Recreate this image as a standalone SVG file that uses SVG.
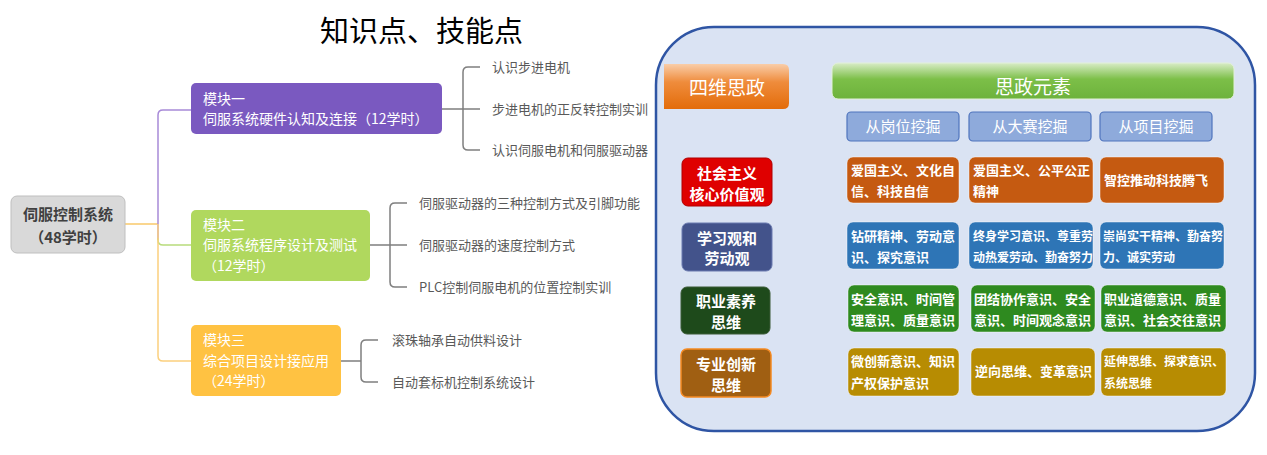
<svg xmlns="http://www.w3.org/2000/svg" width="1267" height="455" viewBox="0 0 1267 455">
<defs>
<linearGradient id="gOrange" x1="0" y1="0" x2="0" y2="1">
<stop offset="0" stop-color="#f9cda8"/><stop offset="0.4" stop-color="#ef8c3c"/><stop offset="1" stop-color="#e36c0a"/>
</linearGradient>
<linearGradient id="gGreen" x1="0" y1="0" x2="0" y2="1">
<stop offset="0" stop-color="#d8ecc6"/><stop offset="0.45" stop-color="#7cbf48"/><stop offset="1" stop-color="#6db23c"/>
</linearGradient>
<style>
text{font-family:"Noto Sans CJK SC","Noto Sans",sans-serif;}
.title{font-size:29px;fill:#000;}
.root{font-size:15px;font-weight:bold;fill:#404040;}
.mod{font-size:14px;fill:#fff;}
.leaf{font-size:13px;fill:#595959;}
.br{fill:none;stroke:#7f7f7f;stroke-width:1.5;}
.lk{fill:none;stroke-width:1.5;}
.hdr{font-size:19px;fill:#fff;text-anchor:middle;}
.sub{fill:#8eaadb;stroke:#4f74bd;stroke-width:1.2;}
.subt{font-size:15px;fill:#fff;text-anchor:middle;}
.lab{font-size:15px;font-weight:bold;fill:#fff;text-anchor:middle;}
.el{stroke:#ffffff;stroke-opacity:0.45;stroke-width:1;}
.elt{font-size:13px;font-weight:bold;fill:#fff;}
.elt12{font-size:12px;font-weight:bold;fill:#fff;}
</style>
</defs>
<rect width="1267" height="455" fill="#fff"/>

<text class="title" x="320" y="42">知识点、技能点</text>

<g id="connectors">
<path class="lk" stroke="#f9c86a" d="M125,224 H158"/>
<path class="lk" stroke="#a88ad8" d="M158,240 V115 Q158,110 163,110 H191"/>
<path class="lk" stroke="#b8dc7c" d="M158,238 V240 Q158,245 163,245 H191"/>
<path class="lk" stroke="#fbd07e" d="M158,224 V356 Q158,361 163,361 H191"/>
<path class="br" d="M442,109 H463 M480,67 H468 Q463,67 463,72 V145 Q463,150 468,150 H480 M463,109 H480"/>
<path class="br" d="M370,245 H390 M407,203 H395 Q390,203 390,208 V282 Q390,287 395,287 H407 M390,245 H407"/>
<path class="br" d="M341,361 H361 M378,340 H366 Q361,340 361,345 V377 Q361,382 366,382 H378"/>
</g>

<g id="root">
<rect x="11" y="196" width="114" height="57" rx="6" fill="#d9d9d9" stroke="#bfbfbf"/>
<text class="root" x="68" y="220" text-anchor="middle">伺服控制系统</text>
<text class="root" x="68" y="243" text-anchor="middle">（48学时）</text>
</g>

<g id="module1">
<rect x="191" y="83" width="251" height="51" rx="5" fill="#7a59c0"/>
<text class="mod" x="203" y="104">模块一</text>
<text class="mod" x="203" y="124">伺服系统硬件认知及连接（12学时）</text>
</g>
<g id="m1leaves">
<text class="leaf" x="492" y="72">认识步进电机</text>
<text class="leaf" x="492" y="114">步进电机的正反转控制实训</text>
<text class="leaf" x="492" y="155">认识伺服电机和伺服驱动器</text>
</g>

<g id="module2">
<rect x="191" y="210" width="179" height="71" rx="5" fill="#b0d85e"/>
<text class="mod" x="203" y="230">模块二</text>
<text class="mod" x="203" y="250">伺服系统程序设计及测试</text>
<text class="mod" x="203" y="271">（12学时）</text>
</g>
<g id="m2leaves">
<text class="leaf" x="419" y="208">伺服驱动器的三种控制方式及引脚功能</text>
<text class="leaf" x="419" y="250">伺服驱动器的速度控制方式</text>
<text class="leaf" x="419" y="292">PLC控制伺服电机的位置控制实训</text>
</g>

<g id="module3">
<rect x="191" y="325" width="150" height="71" rx="5" fill="#ffc242"/>
<text class="mod" x="203" y="345">模块三</text>
<text class="mod" x="203" y="366">综合项目设计接应用</text>
<text class="mod" x="203" y="386">（24学时）</text>
</g>
<g id="m3leaves">
<text class="leaf" x="392" y="345">滚珠轴承自动供料设计</text>
<text class="leaf" x="392" y="387">自动套标机控制系统设计</text>
</g>

<g id="panel">
<rect x="656" y="27" width="599" height="404" rx="58" fill="#dae3f3" stroke="#2f55a4" stroke-width="2.5"/>
</g>

<g id="siwei">
<path d="M664,64 H783 Q789,64 789,70 V103 Q789,109 783,109 H664 Z" fill="url(#gOrange)"/>
<text class="hdr" x="727" y="95">四维思政</text>
</g>
<g id="yuansu">
<rect x="832" y="63" width="402" height="36" rx="6" fill="url(#gGreen)" stroke="#e2f0d9" stroke-width="1"/>
<text class="hdr" x="1033" y="94">思政元素</text>
</g>
<g id="sub1"><rect class="sub" x="847" y="112" width="112" height="29" rx="4"/><text class="subt" x="903" y="132">从岗位挖掘</text></g>
<g id="sub2"><rect class="sub" x="969" y="112" width="122" height="29" rx="4"/><text class="subt" x="1030" y="132">从大赛挖掘</text></g>
<g id="sub3"><rect class="sub" x="1100" y="112" width="112" height="29" rx="4"/><text class="subt" x="1156" y="132">从项目挖掘</text></g>

<g id="label1">
<rect x="682" y="158" width="90" height="48" rx="6" fill="#df0000" stroke="#b00000"/>
<text class="lab" x="727" y="179">社会主义</text><text class="lab" x="727" y="200">核心价值观</text>
</g>
<g id="label2">
<rect x="682" y="223" width="90" height="48" rx="6" fill="#43538b" stroke="#6b7bb0"/>
<text class="lab" x="727" y="244">学习观和</text><text class="lab" x="727" y="264">劳动观</text>
</g>
<g id="label3">
<rect x="681" y="287" width="89" height="47" rx="6" fill="#1e4a1b" stroke="#3a5a36"/>
<text class="lab" x="726" y="307">职业素养</text><text class="lab" x="726" y="328">思维</text>
</g>
<g id="label4">
<rect x="681" y="349" width="90" height="48" rx="6" fill="#a05f12" stroke="#f58a22" stroke-width="1.5"/>
<text class="lab" x="726" y="370">专业创新</text><text class="lab" x="726" y="391">思维</text>
</g>

<g id="r1c1"><rect class="el" x="847" y="157" width="112" height="46" rx="6" fill="#c55a11"/>
<text class="elt" x="851" y="175">爱国主义、文化自</text><text class="elt" x="851" y="196">信、科技自信</text></g>
<g id="r1c2"><rect class="el" x="969" y="157" width="124" height="46" rx="6" fill="#c55a11"/>
<text class="elt" x="973" y="175">爱国主义、公平公正</text><text class="elt" x="973" y="196">精神</text></g>
<g id="r1c3"><rect class="el" x="1100" y="157" width="124" height="46" rx="6" fill="#c55a11"/>
<text class="elt" x="1104" y="185">智控推动科技腾飞</text></g>

<g id="r2c1"><rect class="el" x="847" y="222" width="112" height="47" rx="6" fill="#2e75b6"/>
<text class="elt" x="851" y="241">钻研精神、劳动意</text><text class="elt" x="851" y="262">识、探究意识</text></g>
<g id="r2c2"><rect class="el" x="969" y="222" width="124" height="47" rx="6" fill="#2e75b6"/>
<text class="elt12" x="973" y="241">终身学习意识、尊重劳</text><text class="elt12" x="973" y="262">动热爱劳动、勤奋努力</text></g>
<g id="r2c3"><rect class="el" x="1100" y="222" width="124" height="47" rx="6" fill="#2e75b6"/>
<text class="elt12" x="1103" y="241">崇尚实干精神、勤奋努</text><text class="elt12" x="1103" y="262">力、诚实劳动</text></g>

<g id="r3c1"><rect class="el" x="848" y="285" width="111" height="47" rx="6" fill="#2e8a1f"/>
<text class="elt" x="851" y="304">安全意识、时间管</text><text class="elt" x="851" y="325">理意识、质量意识</text></g>
<g id="r3c2"><rect class="el" x="971" y="285" width="124" height="47" rx="6" fill="#2e8a1f"/>
<text class="elt" x="974" y="304">团结协作意识、安全</text><text class="elt" x="974" y="325">意识、时间观念意识</text></g>
<g id="r3c3"><rect class="el" x="1101" y="285" width="125" height="47" rx="6" fill="#2e8a1f"/>
<text class="elt" x="1104" y="304">职业道德意识、质量</text><text class="elt" x="1104" y="325">意识、社会交往意识</text></g>

<g id="r4c1"><rect class="el" x="848" y="348" width="111" height="48" rx="6" fill="#b78c02"/>
<text class="elt" x="851" y="366">微创新意识、知识</text><text class="elt" x="851" y="388">产权保护意识</text></g>
<g id="r4c2"><rect class="el" x="971" y="348" width="124" height="48" rx="6" fill="#b78c02"/>
<text class="elt" x="975" y="376">逆向思维、变革意识</text></g>
<g id="r4c3"><rect class="el" x="1101" y="348" width="125" height="48" rx="6" fill="#b78c02"/>
<text class="elt12" x="1104" y="366">延伸思维、探求意识、</text><text class="elt12" x="1104" y="388">系统思维</text></g>
</svg>
